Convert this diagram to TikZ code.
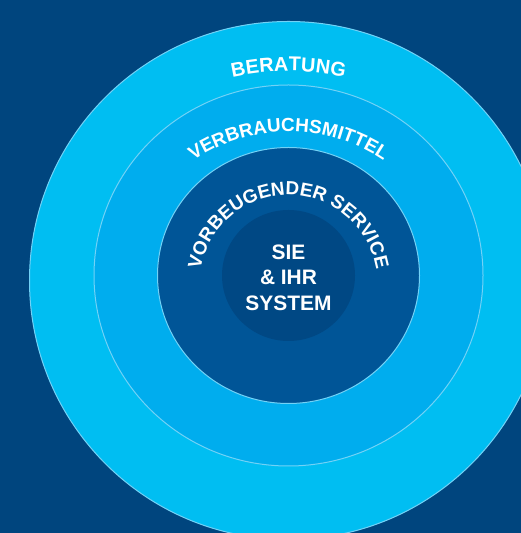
\documentclass[tikz,border=0pt]{standalone}
\usepackage{fontspec}
\setmainfont{Liberation Sans}
\usetikzlibrary{decorations.text}

\definecolor{navy}{HTML}{00457E}
\definecolor{beratung}{HTML}{00BEF2}
\definecolor{verbrauch}{HTML}{00ADEE}
\definecolor{service}{HTML}{005597}
\definecolor{system}{HTML}{004884}
\definecolor{ringline}{HTML}{72D2F6}

\begin{document}
\begin{tikzpicture}[
  x=1bp, y=1bp,
  ring/.style={draw=ringline, line width=1bp},
  arctext/.style={decorate,
    decoration={text along path, text align=center}},
  core/.style={text=white, align=center, inner sep=0pt,
    font=\bfseries\fontsize{21}{25.5}\selectfont},
]
%-------------------------------------------------------------
\newcommand{\fontB}{\color{white}\bfseries\fontsize{20}{24}\selectfont}
\newcommand{\fontV}{\color{white}\bfseries\fontsize{19}{22}\selectfont}
\newcommand{\fontS}{\color{white}\bfseries\fontsize{19}{22}\selectfont}

\useasboundingbox (0,0) rectangle (521,533);
\fill[navy] (0,0) rectangle (521,533);

\coordinate (O) at (288.5,252.5);  % outer ring
\coordinate (C) at (288.5,257.5);  % inner rings
%============================================================
\filldraw[ring, fill=beratung] (O) circle[radius=259];
\filldraw[ring, fill=verbrauch] (C) ellipse[x radius=194.5, y radius=190.5];
\filldraw[ring, fill=service] (C) ellipse[x radius=131, y radius=128];
\fill[system] (C) ellipse[x radius=66.5, y radius=65.5];
%============================================================
\coordinate (tB) at (288.5,204);
\coordinate (tV) at (288.5,231.3);
\coordinate (tS) at (288.5,249);

\path[arctext, decoration={text={|\fontB|BERATUNG}}]
  (tB) ++(120:258) arc[start angle=120, end angle=60, radius=258];
\path[arctext, decoration={text={|\fontV|VERBRAUCHSMITTEL}}]
  (tV) ++(150:170) arc[start angle=150, end angle=30, radius=170];
\path[arctext, decoration={text={|\fontS|VORBEUGENDER SERVICE}}]
  (tS) ++(190:89) arc[start angle=190, end angle=-10, radius=89];
%============================================================
\node[core] (sys) at (288.5,255.5) {SIE\\\& IHR\\SYSTEM};

\end{tikzpicture}
\end{document}
